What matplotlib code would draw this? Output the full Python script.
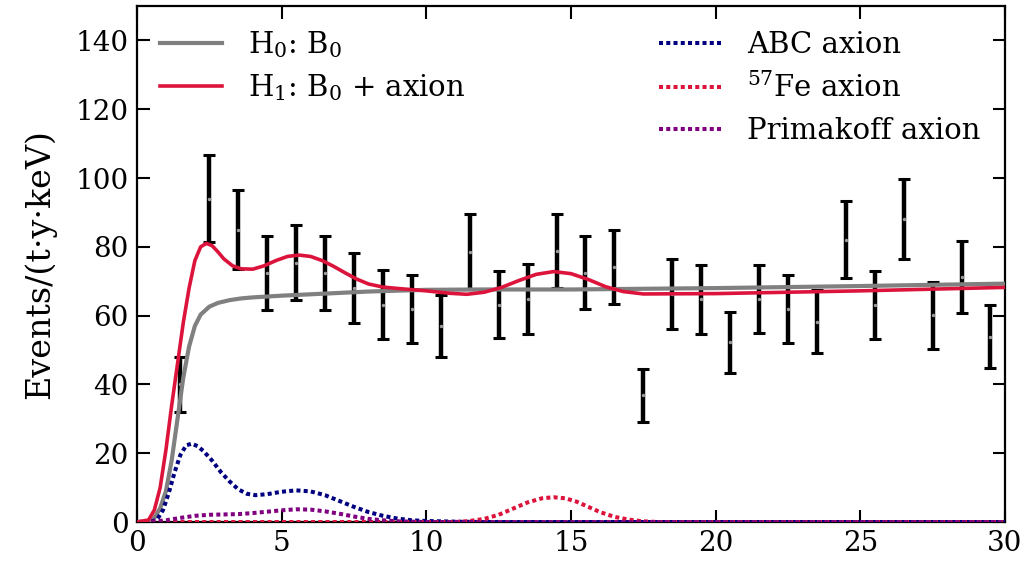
import matplotlib
matplotlib.use('Agg')
import matplotlib.pyplot as plt

# datos binados (centro del bin en keV)
bin_centros = [1.5, 2.5, 3.5, 4.5, 5.5, 6.5, 7.5, 8.5, 9.5, 10.5,
               11.5, 12.5, 13.5, 14.5, 15.5, 16.5, 17.5, 18.5, 19.5, 20.5,
               21.5, 22.5, 23.5, 24.5, 25.5, 26.5, 27.5, 28.5, 29.5]
eventos = [40, 94, 85, 72.3, 75.4, 72.3, 68, 63.2, 62, 57,
           78.6, 63.2, 64.9, 78.7, 72.5, 74.2, 36.8, 66.2, 64.7, 52.2,
           64.9, 61.9, 58.2, 82.1, 63.2, 88.1, 60.1, 71.2, 53.9]
errores = [8, 12.6, 11.5, 10.7, 10.9, 10.7, 10.2, 10, 9.9, 9.1,
           11, 9.8, 10.2, 10.8, 10.5, 10.8, 7.7, 10.2, 10.1, 8.9,
           9.9, 9.9, 9.2, 11.2, 9.9, 11.7, 9.8, 10.5, 9.1]

# H0: solo fondo
x_h0 = [0, 0.4, 0.6, 0.8, 1.0, 1.2, 1.4, 1.6, 1.8, 2.0, 2.2, 2.5, 2.8, 3.2,
        3.6, 4.0, 5.0, 6.0, 8.0, 10, 12, 15, 20, 25, 30]
y_h0 = [0, 0.2, 1.2, 4, 9, 18, 30, 42, 51, 57, 60.3, 62.6, 63.7, 64.5,
        65, 65.3, 65.8, 66.2, 67, 67.5, 67.6, 67.6, 68, 68.6, 69.3]

# H1: fondo + axion
x_h1 = [0, 0.4, 0.6, 0.8, 1.0, 1.2, 1.4, 1.6, 1.8, 2.0, 2.2, 2.4, 2.6, 2.8,
        3.0, 3.3, 3.6, 4.0, 4.4, 4.8, 5.2, 5.6, 6.0, 6.4, 6.8, 7.2, 7.6, 8.0,
        8.5, 9.0, 10.0, 10.8, 11.4, 12.0, 12.6, 13.2, 13.8, 14.4, 15.0, 15.6,
        16.2, 16.8, 17.5, 20, 25, 30]
y_h1 = [0, 0.6, 3.5, 10, 21, 34, 46, 58, 68, 76, 80, 81, 80.3, 78.5,
        76.5, 74.5, 73.6, 73.5, 74.5, 76, 77.2, 77.6, 77.2, 76, 74.3, 72.4, 70.6, 69.2,
        68.3, 67.9, 67.2, 66.5, 66.2, 66.8, 68.2, 70.2, 72, 72.8, 72.2, 70.5,
        68.4, 67, 66.3, 66.4, 67.2, 68.2]

# componentes de la senal
x_abc = [0, 0.5, 0.7, 0.9, 1.1, 1.3, 1.5, 1.7, 1.9, 2.1, 2.3, 2.6, 2.9, 3.2,
         3.5, 3.8, 4.1, 4.5, 5.0, 5.5, 6.0, 6.5, 7.0, 7.5, 8.0, 8.5, 9.0, 9.5,
         10, 11, 12, 30]
y_abc = [0, 0.1, 0.8, 3.5, 8.5, 14.5, 19.5, 22.3, 22.8, 22, 20.6, 17.8, 14.5, 11.8,
         9.5, 8.2, 7.8, 8.1, 8.8, 9.2, 8.9, 7.8, 6.1, 4.4, 2.9, 1.8, 1.0, 0.5,
         0.3, 0.1, 0, 0]

x_fe = [0, 11, 11.5, 12, 12.5, 13, 13.5, 14, 14.4, 14.8, 15.2, 15.6, 16, 16.5,
        17, 17.5, 18, 30]
y_fe = [0, 0, 0.3, 0.9, 2.1, 3.9, 5.7, 6.9, 7.2, 6.9, 5.9, 4.4, 2.9, 1.5,
        0.7, 0.2, 0, 0]

x_prim = [0, 0.5, 1.0, 1.5, 2.0, 2.5, 3.0, 3.5, 4.0, 4.5, 5.0, 5.5, 6.0, 6.5,
          7.0, 7.5, 8.0, 8.5, 9.0, 9.5, 10, 30]
y_prim = [0, 0.1, 0.5, 1.2, 1.8, 2.1, 2.2, 2.3, 2.6, 3.0, 3.4, 3.7, 3.6, 3.1,
          2.4, 1.6, 0.9, 0.5, 0.2, 0.1, 0, 0]

plt.rcParams['font.family'] = ['DejaVu Serif']
plt.rcParams['mathtext.fontset'] = 'dejavuserif'

fig = plt.figure(figsize=(10.24, 5.63), dpi=100)
ax = fig.add_axes([0.1338, 0.0728, 0.8476, 0.9165])

ax.errorbar(bin_centros, eventos, yerr=errores, fmt='o', ms=1.5, color='#999999',
            ecolor='black', elinewidth=3.2, capsize=4, capthick=2.2, zorder=2)

l_h0, = ax.plot(x_h0, y_h0, color='gray', lw=3, label='H$_0$: B$_0$', zorder=3)
l_h1, = ax.plot(x_h1, y_h1, color='crimson', lw=2.6, label='H$_1$: B$_0$ + axion', zorder=4)
punteado = (0, (1, 0.8))
l_abc, = ax.plot(x_abc, y_abc, color='navy', lw=2.9, ls=punteado, label='ABC axion', zorder=3)
l_fe, = ax.plot(x_fe, y_fe, color='crimson', lw=2.9, ls=punteado, label='$^{57}$Fe axion', zorder=3)
l_prim, = ax.plot(x_prim, y_prim, color='purple', lw=2.9, ls=punteado, label='Primakoff axion', zorder=3)

ax.set_xlim(0, 30)
ax.set_ylim(0, 150)
ax.set_xticks([0, 5, 10, 15, 20, 25, 30])
ax.set_yticks([0, 20, 40, 60, 80, 100, 120, 140])
ax.tick_params(direction='in', top=True, right=True, length=9, width=1.5,
               labelsize=20, pad=6)
for s in ax.spines.values():
    s.set_linewidth(1.6)
ax.set_ylabel('Events/(t·y·keV)', fontsize=24, labelpad=14)

leg1 = ax.legend(handles=[l_h0, l_h1], loc='upper left', bbox_to_anchor=(0.0, 1.0),
                 frameon=False, fontsize=21, handlelength=2.1, handletextpad=0.9,
                 labelspacing=0.4, borderaxespad=0.4)
ax.add_artist(leg1)
ax.legend(handles=[l_abc, l_fe, l_prim], loc='upper right', bbox_to_anchor=(1.0, 1.0),
          frameon=False, fontsize=21, handlelength=2.1, handletextpad=0.9,
          labelspacing=0.48, borderaxespad=0.45)

fig.savefig('out.png', dpi=100)
